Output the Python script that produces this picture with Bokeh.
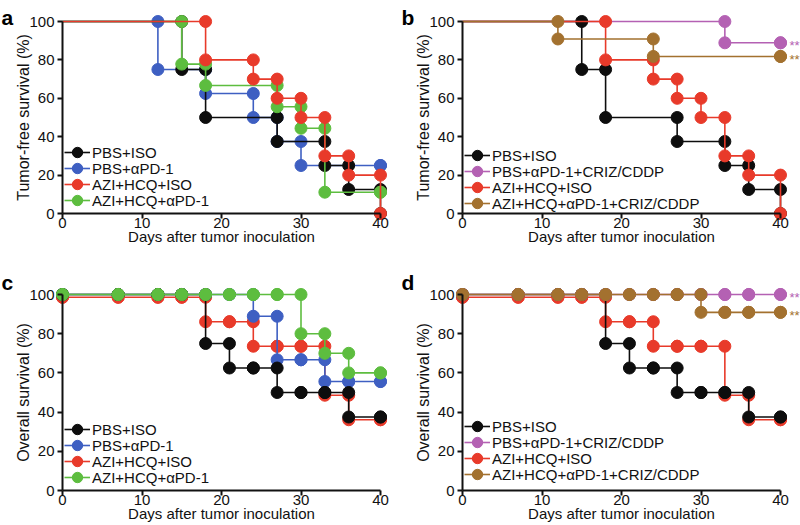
from bokeh.plotting import figure
from bokeh.models import Range1d, FixedTicker, Legend, LegendItem, Label
from bokeh.layouts import column, row
from bokeh.embed import file_html
from bokeh.resources import INLINE

FONT = "Liberation Sans"
TEXT_COLOR = "#111111"

# ---------------- data ----------------
X_TICKS = [0, 10, 20, 30, 40]
Y_TICKS = [0, 20, 40, 60, 80, 100]
X_LABEL = "Days after tumor inoculation"
Y_LABEL_TF = "Tumor-free survival (%)"
Y_LABEL_OS = "Overall survival (%)"

NAMES_1 = ["PBS+ISO", "PBS+αPD-1", "AZI+HCQ+ISO", "AZI+HCQ+αPD-1"]
NAMES_2 = ["PBS+ISO", "PBS+αPD-1+CRIZ/CDDP", "AZI+HCQ+ISO", "AZI+HCQ+αPD-1+CRIZ/CDDP"]
COLORS_1 = ["#0d0d0d", "#3e5fc2", "#e83a2a", "#5dbd3f"]
COLORS_2 = ["#0d0d0d", "#b461b3", "#e83a2a", "#a3712f"]

# panel a : tumor-free survival (event days, survival after event)
a_pbs_iso_days = [15, 18, 27, 33, 36, 40]
a_pbs_iso_surv = [75, 50, 37.5, 25, 12.5, 0]
a_pbs_pd1_days = [12, 18, 24, 27, 30, 40]
a_pbs_pd1_surv = [75, 62.5, 50, 37.5, 25, 25]
a_azi_iso_days = [18, 24, 27, 30, 33, 36, 40]
a_azi_iso_surv = [80, 70, 60, 50, 30, 20, 0]
a_azi_pd1_days = [15, 18, 27, 30, 33, 40]
a_azi_pd1_surv = [77.8, 66.7, 55.6, 44.4, 11.1, 11.1]

# panel b : tumor-free survival
b_pbs_iso_days = [15, 18, 27, 33, 36, 40]
b_pbs_iso_surv = [75, 50, 37.5, 25, 12.5, 0]
b_pbs_combo_days = [33, 40]
b_pbs_combo_surv = [88.9, 88.9]
b_azi_iso_days = [18, 24, 27, 30, 33, 36, 40]
b_azi_iso_surv = [80, 70, 60, 50, 30, 20, 0]
b_azi_combo_days = [12, 24, 40]
b_azi_combo_surv = [90.9, 81.8, 81.8]

# panels c, d : overall survival at observation days
obs_days = [0, 7, 12, 15, 18, 21, 24, 27, 30, 33, 36, 40]
c_pbs_iso_surv = [100, 100, 100, 100, 75, 62.5, 62.5, 50, 50, 50, 37.5, 37.5]
c_pbs_pd1_surv = [100, 100, 100, 100, 100, 100, 88.9, 66.7, 66.7, 55.6, 55.6, 55.6]
c_azi_iso_surv = [98.6, 98.6, 98.6, 98.6, 86.1, 86.1, 73.6, 73.6, 73.6, 48.6, 36.1, 36.1]
c_azi_pd1_surv = [100, 100, 100, 100, 100, 100, 100, 100, 80, 70, 60, 60]

d_pbs_iso_surv = [100, 100, 100, 100, 75, 62.5, 62.5, 50, 50, 50, 37.5, 37.5]
d_pbs_combo_surv = [100, 100, 100, 100, 100, 100, 100, 100, 100, 100, 100, 100]
d_azi_iso_surv = [98.6, 98.6, 98.6, 98.6, 86.1, 86.1, 73.6, 73.6, 73.6, 48.6, 36.1, 36.1]
d_azi_combo_surv = [100, 100, 100, 100, 100, 100, 100, 100, 90.9, 90.9, 90.9, 90.9]

STARS = "**"

# ---------------- layout geometry (pixels inside each figure) ----------------
W = 400
COLS = [dict(axis_x=62, x40=380), dict(axis_x=62, x40=380)]
ROWS = [dict(H=262, y100=21, y0=213, letter_base=17),
        dict(H=263, y100=32, y0=228, letter_base=20)]
ROW_PITCH = 16
GLYPH_BOX = 26


def km_path(days, surv):
    prev = surv[0] if days[0] == 0 else 100
    xs, ys = [0], [prev]
    mx, my = [], []
    for t, v in zip(days, surv):
        xs += [t, t]
        ys += [prev, v]
        mx += [t, t]
        my += [prev, v]
        prev = v
    return xs, ys, mx, my


def make_panel(letter, series, names, colors, order, ylabel, ci, ri, legend_off, stars):
    c = COLS[ci]
    r = ROWS[ri]
    H = r["H"]
    sx = (c["x40"] - c["axis_x"]) / 40.0
    sy = (r["y0"] - r["y100"]) / 100.0

    p = figure(width=W, height=H, output_backend="svg", toolbar_location=None,
               x_range=Range1d(-c["axis_x"] / sx, 40 + (W - c["x40"]) / sx),
               y_range=Range1d(-(H - r["y0"]) / sy, 100 + r["y100"] / sy),
               min_border=0, min_border_left=0, min_border_right=0,
               min_border_top=0, min_border_bottom=0)
    p.outline_line_color = None
    p.grid.visible = False
    p.background_fill_color = "white"
    p.border_fill_color = "white"

    for ax in (p.xaxis[0], p.yaxis[0]):
        ax.fixed_location = 0
        ax.axis_line_width = 2
        ax.axis_line_color = TEXT_COLOR
        ax.major_tick_line_width = 2
        ax.major_tick_line_color = TEXT_COLOR
        ax.major_tick_out = 5
        ax.major_tick_in = 0
        ax.minor_tick_out = 0
        ax.minor_tick_in = 0
        ax.major_label_text_font = FONT
        ax.major_label_text_font_size = "15px"
        ax.major_label_text_color = TEXT_COLOR
        ax.axis_label_text_font = FONT
        ax.axis_label_text_font_style = "normal"
        ax.axis_label_text_color = TEXT_COLOR
    p.xaxis[0].ticker = FixedTicker(ticks=X_TICKS)
    p.yaxis[0].ticker = FixedTicker(ticks=Y_TICKS)
    p.xaxis[0].bounds = (0, 40)
    p.yaxis[0].bounds = (0, 100)
    p.xaxis[0].axis_label = X_LABEL
    p.yaxis[0].axis_label = ylabel
    p.xaxis[0].axis_label_text_font_size = "15px"
    p.yaxis[0].axis_label_text_font_size = "16px"
    p.xaxis[0].major_label_standoff = -1
    p.yaxis[0].major_label_standoff = 3
    p.xaxis[0].axis_label_standoff = -3
    p.yaxis[0].axis_label_standoff = -6

    rend = {}
    for i in order:
        days, surv = series[i]
        xs, ys, mx, my = km_path(days, surv)
        lr = p.line(xs, ys, line_color=colors[i], line_width=1.6)
        sr = p.scatter(mx, my, size=12, marker="circle", fill_color=colors[i],
                       line_color=colors[i], line_width=1)
        rend[i] = (lr, sr)

    # one single-item legend per row, so rows can sit closer than the glyph box
    n = len(names)
    for k in range(n):
        center = r["y0"] - legend_off - (n - 1 - k) * ROW_PITCH
        bottom = H - (center + GLYPH_BOX / 2)
        lg = Legend(items=[LegendItem(label=names[k], renderers=list(rend[k]))],
                    location=(c["axis_x"] + 2, bottom),
                    glyph_width=GLYPH_BOX, glyph_height=GLYPH_BOX, label_height=GLYPH_BOX,
                    spacing=0, label_standoff=2, padding=0, margin=0,
                    label_text_font=FONT, label_text_font_size="15px",
                    label_text_color=TEXT_COLOR,
                    background_fill_alpha=0, border_line_alpha=0)
        p.add_layout(lg)

    for i in stars:
        days, surv = series[i]
        p.add_layout(Label(x=40, y=surv[-1], text=STARS, x_offset=9, y_offset=-3,
                           text_baseline="middle", text_align="left",
                           text_font=FONT, text_font_size="13px", text_color=colors[i]))

    p.add_layout(Label(x=1, y=H - r["letter_base"],
                       x_units="screen", y_units="screen", text=letter,
                       text_font=FONT, text_font_size="21px", text_font_style="bold",
                       text_color="#000000", text_baseline="alphabetic"))
    return p


series_a = [(a_pbs_iso_days, a_pbs_iso_surv), (a_pbs_pd1_days, a_pbs_pd1_surv),
            (a_azi_iso_days, a_azi_iso_surv), (a_azi_pd1_days, a_azi_pd1_surv)]
series_b = [(b_pbs_iso_days, b_pbs_iso_surv), (b_pbs_combo_days, b_pbs_combo_surv),
            (b_azi_iso_days, b_azi_iso_surv), (b_azi_combo_days, b_azi_combo_surv)]
series_c = [(obs_days, c_pbs_iso_surv), (obs_days, c_pbs_pd1_surv),
            (obs_days, c_azi_iso_surv), (obs_days, c_azi_pd1_surv)]
series_d = [(obs_days, d_pbs_iso_surv), (obs_days, d_pbs_combo_surv),
            (obs_days, d_azi_iso_surv), (obs_days, d_azi_combo_surv)]

pa = make_panel("a", series_a, NAMES_1, COLORS_1, [1, 0, 3, 2], Y_LABEL_TF, 0, 0, 13, [])
pb = make_panel("b", series_b, NAMES_2, COLORS_2, [1, 0, 2, 3], Y_LABEL_TF, 1, 0, 10, [1, 3])
pc = make_panel("c", series_c, NAMES_1, COLORS_1, [2, 1, 0, 3], Y_LABEL_OS, 0, 1, 13, [])
pd_ = make_panel("d", series_d, NAMES_2, COLORS_2, [2, 0, 1, 3], Y_LABEL_OS, 1, 1, 16, [1, 3])

layout = column(row(pa, pb), row(pc, pd_))
open("out.html", "w").write(file_html(layout, INLINE))
